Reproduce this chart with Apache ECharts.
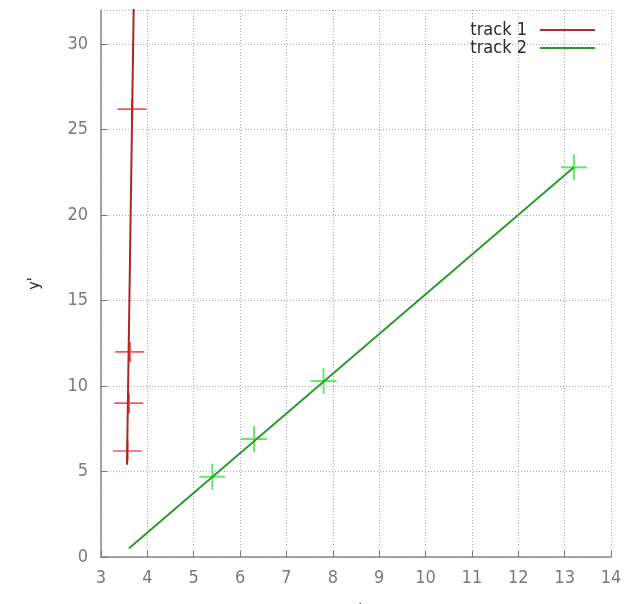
<!DOCTYPE html>
<html>
<head>
<meta charset="utf-8">
<script src="https://cdn.jsdelivr.net/npm/echarts@6/dist/echarts.min.js"></script>
<style>html,body{margin:0;padding:0;background:#fff;}#c{width:634px;height:604px;}</style>
</head>
<body>
<div id="c"></div>
<script>
// track 1 measured points (markers)
var track1X = [3.57, 3.60, 3.62, 3.67];
var track1Y = [6.2, 9.0, 12.0, 26.2];
// track 1 fitted line endpoints
var track1LineX = [3.56, 3.71];
var track1LineY = [5.4, 33.0];
// track 2 measured points (markers)
var track2X = [5.4, 6.3, 7.8, 13.2];
var track2Y = [4.7, 6.9, 10.3, 22.8];
// track 2 fitted line endpoints
var track2LineX = [3.6, 13.2];
var track2LineY = [0.5, 22.8];
var xTicks = [3, 4, 5, 6, 7, 8, 9, 10, 11, 12, 13, 14];
var yTicks = [0, 5, 10, 15, 20, 25, 30];

function zip(a, b) { return a.map(function (v, i) { return [v, b[i]]; }); }

var FONT = '"DejaVu Sans Condensed", "DejaVu Sans", sans-serif';
var plus = 'path://M10,0 L10,20 M0,10 L20,10';
var chart = echarts.init(document.getElementById('c'));
chart.setOption({
  animation: false,
  backgroundColor: '#fff',
  textStyle: { fontFamily: FONT },
  grid: { left: 101, right: 23, top: 10, bottom: 47, outerBoundsMode: 'none', containLabel: false },
  legend: {
    orient: 'vertical', right: 34, top: 16, align: 'right',
    itemWidth: 55, itemHeight: 2, itemGap: 0,
    icon: 'rect',
    textStyle: { color: '#2a2a2a', fontSize: 18, lineHeight: 18, fontFamily: FONT, padding: [0, 8, 0, 0] },
    data: [
      { name: 'track 1', itemStyle: { color: '#b03030' } },
      { name: 'track 2', itemStyle: { color: '#2e9a2e' } }
    ]
  },
  xAxis: {
    type: 'value', min: xTicks[0], max: xTicks[xTicks.length - 1], interval: 1,
    name: "x'", nameLocation: 'middle', nameGap: 46,
    nameTextStyle: { color: '#222', fontSize: 16, fontFamily: FONT },
    axisLine: { lineStyle: { color: '#888', width: 1.5 } },
    axisTick: { inside: true, length: 6, lineStyle: { color: '#777' } },
    axisLabel: { color: '#7a7a7a', fontSize: 18, margin: 12, fontFamily: FONT },
    splitLine: { show: true, lineStyle: { color: '#aaa', type: [1, 2], width: 1 } }
  },
  yAxis: {
    type: 'value', min: yTicks[0], max: 32, interval: 5,
    name: "y'", nameLocation: 'middle', nameGap: 58,
    nameTextStyle: { color: '#222', fontSize: 16, fontFamily: FONT },
    axisLine: { show: true, lineStyle: { color: '#888', width: 1.5 } },
    axisTick: { show: true, inside: true, length: 6, lineStyle: { color: '#777' } },
    axisLabel: { color: '#7a7a7a', fontSize: 18, margin: 13, showMaxLabel: false, fontFamily: FONT },
    splitLine: { show: true, lineStyle: { color: '#aaa', type: [1, 2], width: 1 } }
  },
  series: [
    {
      name: 'track 1', type: 'line', data: zip(track1LineX, track1LineY),
      showSymbol: false, lineStyle: { color: '#a82828', width: 2 }, itemStyle: { color: '#b03030' }
    },
    {
      name: 'track 2', type: 'line', data: zip(track2LineX, track2LineY),
      showSymbol: false, lineStyle: { color: '#2e9a2e', width: 2 }, itemStyle: { color: '#2e9a2e' }
    },
    {
      name: 'track 1 pts', type: 'scatter', data: zip(track1X, track1Y),
      symbol: plus, symbolSize: [29, 20],
      itemStyle: { color: 'none', borderColor: '#f03030', borderWidth: 2 }
    },
    {
      name: 'track 2 pts', type: 'scatter', data: zip(track2X, track2Y),
      symbol: plus, symbolSize: [26, 26],
      itemStyle: { color: 'none', borderColor: '#3be83b', borderWidth: 2 }
    }
  ]
});
</script>
</body>
</html>
